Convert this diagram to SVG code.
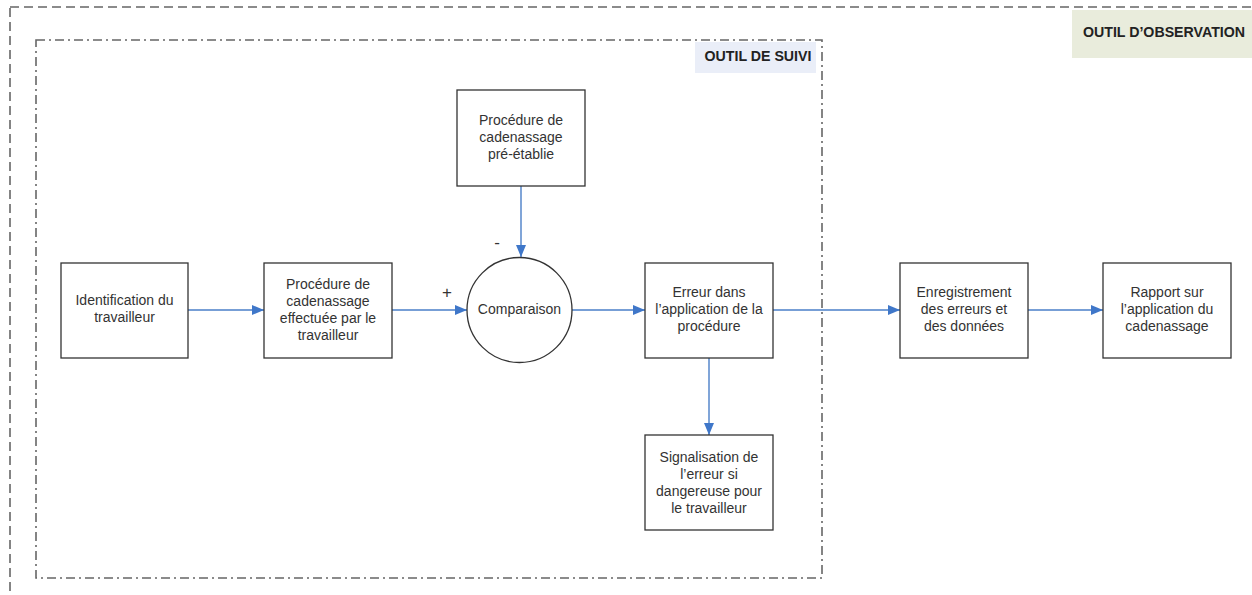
<svg xmlns="http://www.w3.org/2000/svg" width="1252" height="595" viewBox="0 0 1252 595">
  <style>
    .box { fill: #ffffff; stroke: #333333; stroke-width: 1.3; }
    .lbl { font-family: "Liberation Sans", Arial, sans-serif; font-size: 14px; fill: #333333; text-anchor: middle; }
    .title { font-family: "Liberation Sans", Arial, sans-serif; font-size: 14.2px; font-weight: bold; fill: #222222; text-anchor: middle; }
    .sign { font-family: "Liberation Sans", Arial, sans-serif; font-size: 17px; fill: #333333; text-anchor: middle; }
    .link { stroke: #4a7fc8; stroke-width: 1.4; fill: none; marker-end: url(#arrow); }
    .frame-outer { fill: none; stroke: #666666; stroke-width: 1.6; stroke-dasharray: 9 5; }
    .frame-inner { fill: none; stroke: #666666; stroke-width: 1.6; stroke-dasharray: 9 4 2 4; }
  </style>
  <defs>
    <marker id="arrow" viewBox="0 0 12 10" refX="12" refY="5" markerWidth="12" markerHeight="10" markerUnits="userSpaceOnUse" orient="auto">
      <path d="M0,0 L12,5 L0,10 Z" fill="#3f77c9"/>
    </marker>
  </defs>

  <rect width="1252" height="595" fill="#ffffff"/>

  <!-- Frames -->
  <g id="frame-observation">
    <rect class="frame-outer" x="10" y="7" width="1260" height="600"/>
    <rect x="1072" y="10" width="180" height="48" fill="#e9ecdc"/>
    <text class="title" x="1164" y="37">OUTIL D’OBSERVATION</text>
  </g>
  <g id="frame-suivi">
    <rect class="frame-inner" x="36" y="40" width="786" height="538"/>
    <rect x="695" y="42" width="121" height="31" fill="#eaeef8"/>
    <text class="title" x="758" y="61">OUTIL DE SUIVI</text>
  </g>

  <!-- Connectors -->
  <g id="connectors">
    <line class="link" x1="188" y1="310" x2="264" y2="310"/>
    <line class="link" x1="392" y1="310" x2="467" y2="310"/>
    <line class="link" x1="521" y1="186" x2="521" y2="257"/>
    <line class="link" x1="572" y1="310" x2="645" y2="310"/>
    <line class="link" x1="709" y1="358" x2="709" y2="435"/>
    <line class="link" x1="773" y1="310" x2="900" y2="310"/>
    <line class="link" x1="1028" y1="310" x2="1103" y2="310"/>
    <text class="sign" x="447" y="298">+</text>
    <text class="sign" x="497" y="248">-</text>
  </g>

  <!-- Nodes -->
  <g id="identification">
    <rect class="box" x="61" y="263" width="127" height="95"/>
    <text class="lbl" x="124.5" y="305">Identification du</text>
    <text class="lbl" x="124.5" y="322">travailleur</text>
  </g>
  <g id="procedure-effectuee">
    <rect class="box" x="264" y="263" width="128" height="95"/>
    <text class="lbl" x="328" y="289">Procédure de</text>
    <text class="lbl" x="328" y="306">cadenassage</text>
    <text class="lbl" x="328" y="323">effectuée par le</text>
    <text class="lbl" x="328" y="340">travailleur</text>
  </g>
  <g id="procedure-preetablie">
    <rect class="box" x="457" y="90" width="128" height="96"/>
    <text class="lbl" x="521" y="125">Procédure de</text>
    <text class="lbl" x="521" y="142">cadenassage</text>
    <text class="lbl" x="521" y="159">pré-établie</text>
  </g>
  <g id="comparaison">
    <circle class="box" cx="519.5" cy="310" r="52.5"/>
    <text class="lbl" x="519.5" y="314">Comparaison</text>
  </g>
  <g id="erreur">
    <rect class="box" x="645" y="263" width="128" height="95"/>
    <text class="lbl" x="709" y="297">Erreur dans</text>
    <text class="lbl" x="709" y="314">l’application de la</text>
    <text class="lbl" x="709" y="331">procédure</text>
  </g>
  <g id="signalisation">
    <rect class="box" x="645" y="435" width="128" height="95"/>
    <text class="lbl" x="709" y="462">Signalisation de</text>
    <text class="lbl" x="709" y="479">l’erreur si</text>
    <text class="lbl" x="709" y="496">dangereuse pour</text>
    <text class="lbl" x="709" y="513">le travailleur</text>
  </g>
  <g id="enregistrement">
    <rect class="box" x="900" y="263" width="128" height="95"/>
    <text class="lbl" x="964" y="297">Enregistrement</text>
    <text class="lbl" x="964" y="314">des erreurs et</text>
    <text class="lbl" x="964" y="331">des données</text>
  </g>
  <g id="rapport">
    <rect class="box" x="1103" y="263" width="128" height="95"/>
    <text class="lbl" x="1167" y="297">Rapport sur</text>
    <text class="lbl" x="1167" y="314">l’application du</text>
    <text class="lbl" x="1167" y="331">cadenassage</text>
  </g>
</svg>
